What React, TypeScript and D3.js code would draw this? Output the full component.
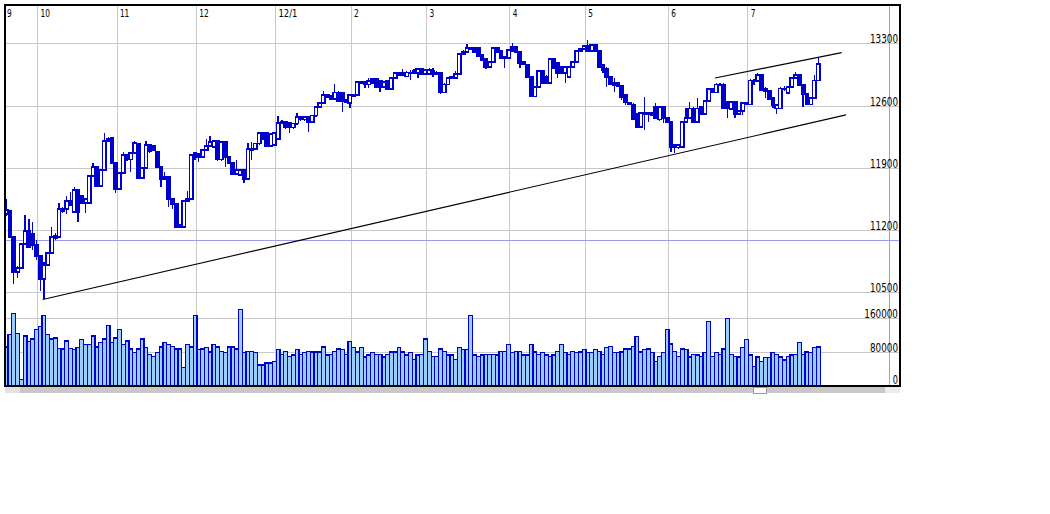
import React from 'react';
import * as d3 from 'd3';

type OHLC = [number, number, number, number]; // open, high, low, close

const ohlcSep: OHLC[] = [
  [11380, 11550, 11360, 11425], [11415, 11425, 11110, 11120], [11120, 11135, 10595, 10730],
  [10730, 10795, 10660, 10775], [10775, 11055, 10760, 11045], [11045, 11370, 11030, 11190],
  [11190, 11325, 11000, 11010], [11155, 11290, 10975, 11030], [11030, 11090, 10865, 10910],
];
const ohlcOct: OHLC[] = [
  [10910, 10920, 10515, 10650], [10650, 10840, 10425, 10805], [10805, 10955, 10795, 10940],
  [10940, 11235, 10930, 11120], [11110, 11165, 11090, 11135], [11120, 11505, 11110, 11435],
  [11435, 11460, 11390, 11415], [11435, 11585, 11380, 11525], [11525, 11630, 11470, 11480],
  [11405, 11685, 11390, 11650], [11650, 11660, 11290, 11405], [11585, 11595, 11495, 11505],
  [11505, 11560, 11390, 11550], [11505, 11820, 11495, 11810], [11810, 11955, 11795, 11910],
  [11910, 11920, 11685, 11695], [11695, 11885, 11685, 11875], [11875, 12290, 11865, 12200],
  [12225, 12245, 12190, 12200], [12235, 12245, 11945, 11955], [11955, 11965, 11615, 11660],
];
const ohlcNov: OHLC[] = [
  [11660, 11855, 11650, 11840], [11840, 12080, 11830, 12045], [12045, 12055, 11975, 11990],
  [11990, 12080, 11855, 12065], [12065, 12200, 12055, 12180], [12170, 12180, 11775, 11785],
  [11785, 11910, 11775, 11900], [11900, 12200, 11885, 12155], [12155, 12170, 12065, 12080],
  [12145, 12155, 12090, 12100], [12080, 12090, 11900, 11910], [11910, 11920, 11685, 11775],
  [11775, 11855, 11765, 11795], [11795, 11810, 11460, 11550], [11550, 11560, 11435, 11495],
  [11495, 11505, 11225, 11235], [11235, 11270, 11225, 11255], [11235, 11540, 11225, 11525],
  [11525, 11640, 11515, 11550], [11550, 12055, 11540, 12045], [12065, 12080, 11990, 12045],
];
const ohlcDec: OHLC[] = [
  [12055, 12065, 11965, 12020], [12020, 12110, 12010, 12100], [12100, 12225, 12090, 12145],
  [12145, 12260, 12135, 12190], [12135, 12215, 12125, 12200], [12200, 12215, 11975, 11990],
  [11990, 12200, 11975, 12190], [12190, 12200, 11910, 12020], [12020, 12035, 11945, 11955],
  [11955, 11965, 11820, 11830], [11830, 11990, 11820, 11875], [11820, 11885, 11810, 11875],
  [11875, 11885, 11730, 11775], [11775, 12180, 11765, 12110], [12100, 12190, 11990, 12110],
  [12110, 12180, 12100, 12170], [12170, 12305, 12155, 12290], [12290, 12305, 12215, 12280],
  [12290, 12305, 12135, 12145], [12145, 12290, 12135, 12280], [12155, 12305, 12145, 12290],
];
const ohlcJan: OHLC[] = [
  [12225, 12485, 12215, 12405], [12405, 12440, 12395, 12415], [12415, 12425, 12335, 12350],
  [12405, 12415, 12290, 12350], [12350, 12405, 12335, 12395], [12395, 12515, 12380, 12470],
  [12470, 12485, 12425, 12440], [12440, 12485, 12425, 12470], [12470, 12485, 12305, 12415],
  [12415, 12495, 12405, 12485], [12485, 12595, 12470, 12585], [12585, 12640, 12570, 12630],
  [12630, 12765, 12615, 12720], [12695, 12730, 12685, 12720], [12705, 12720, 12660, 12675],
  [12675, 12840, 12660, 12750], [12750, 12765, 12640, 12650], [12740, 12750, 12525, 12650],
  [12640, 12675, 12630, 12660], [12630, 12730, 12570, 12720],
];
const ohlcFeb: OHLC[] = [
  [12705, 12730, 12695, 12720], [12720, 12875, 12705, 12865], [12855, 12875, 12840, 12865],
  [12865, 12875, 12795, 12840], [12840, 12910, 12795, 12875], [12900, 12910, 12840, 12855],
  [12900, 12910, 12795, 12810], [12875, 12885, 12750, 12810], [12810, 12875, 12795, 12865],
  [12875, 12885, 12775, 12785], [12785, 12920, 12775, 12910], [12910, 12975, 12900, 12965],
  [12965, 12975, 12930, 12945], [12965, 13010, 12930, 12945], [12930, 12990, 12920, 12975],
  [12965, 13000, 12885, 12975], [12965, 13010, 12955, 12990], [12965, 13020, 12910, 13010],
  [13010, 13020, 12945, 12955], [12955, 13010, 12945, 13000],
];
const ohlcMar: OHLC[] = [
  [12955, 13020, 12945, 13000], [12990, 13020, 12920, 12955], [12955, 12990, 12945, 12975],
  [12965, 12975, 12730, 12750], [12750, 12855, 12740, 12840], [12840, 12920, 12830, 12910],
  [12910, 12930, 12900, 12920], [12910, 12990, 12900, 12955], [12955, 13190, 12945, 13180],
  [13180, 13225, 13170, 13200], [13200, 13290, 13190, 13245], [13235, 13260, 13225, 13245],
  [13245, 13260, 13190, 13200], [13245, 13260, 13145, 13155], [13170, 13180, 13100, 13110],
  [13125, 13135, 13010, 13035], [13035, 13100, 13020, 13090], [13090, 13260, 13080, 13245],
  [13245, 13260, 13190, 13200], [13215, 13225, 13125, 13135], [13135, 13155, 13020, 13145],
  [13135, 13235, 13125, 13225],
];
const ohlcApr: OHLC[] = [
  [13260, 13305, 13200, 13215], [13260, 13270, 13190, 13200], [13200, 13215, 13020, 13080],
  [13065, 13100, 13055, 13090], [13055, 13065, 12910, 12920], [12920, 12930, 12695, 12705],
  [12705, 12820, 12695, 12810], [12810, 13000, 12795, 12990], [12990, 13000, 12840, 12855],
  [12930, 12945, 12840, 12855], [12855, 13135, 12840, 13125], [13125, 13135, 13010, 13020],
  [13080, 13090, 12910, 12965], [13035, 13045, 12955, 12965], [12965, 13045, 12855, 13035],
  [12920, 13045, 12910, 13035], [13035, 13100, 13020, 13090], [13090, 13225, 13080, 13215],
  [13215, 13245, 13200, 13235], [13235, 13280, 13225, 13270],
];
const ohlcMay: OHLC[] = [
  [13270, 13335, 13200, 13215], [13215, 13290, 13200, 13280], [13280, 13290, 13200, 13215],
  [13215, 13225, 13020, 13035], [13055, 13065, 12965, 13000], [13020, 13035, 12810, 12920],
  [12920, 12930, 12830, 12840], [12830, 12910, 12750, 12855], [12855, 12865, 12810, 12820],
  [12820, 12830, 12660, 12695], [12720, 12730, 12605, 12640], [12630, 12640, 12605, 12615],
  [12615, 12630, 12440, 12450], [12505, 12515, 12350, 12360], [12360, 12525, 12350, 12515],
  [12505, 12695, 12325, 12515], [12505, 12525, 12415, 12515], [12495, 12525, 12485, 12515],
  [12585, 12630, 12450, 12460], [12440, 12595, 12425, 12585], [12585, 12595, 12405, 12460],
  [12460, 12470, 12405, 12415],
];
const ohlcJun: OHLC[] = [
  [12415, 12425, 12080, 12125], [12155, 12170, 12065, 12125], [12125, 12170, 12110, 12155],
  [12135, 12425, 12125, 12415], [12415, 12570, 12405, 12460], [12460, 12640, 12450, 12570],
  [12570, 12585, 12405, 12415], [12415, 12685, 12405, 12570], [12585, 12595, 12495, 12505],
  [12505, 12650, 12495, 12650], [12650, 12795, 12640, 12785], [12785, 12795, 12740, 12750],
  [12750, 12855, 12740, 12840], [12830, 12855, 12820, 12840], [12840, 12855, 12560, 12570],
  [12640, 12650, 12460, 12570], [12560, 12650, 12550, 12640], [12640, 12650, 12460, 12505],
  [12505, 12550, 12495, 12540], [12540, 12640, 12495, 12630], [12615, 12640, 12605, 12630],
];
const ohlcJul: OHLC[] = [
  [12615, 12900, 12605, 12885], [12875, 12900, 12830, 12885], [12875, 12965, 12865, 12945],
  [12945, 12955, 12765, 12775], [12795, 12810, 12685, 12765], [12765, 12775, 12660, 12675],
  [12685, 12695, 12570, 12605], [12570, 12615, 12505, 12605], [12570, 12810, 12560, 12795],
  [12785, 12820, 12765, 12795], [12740, 12820, 12730, 12810], [12810, 12920, 12795, 12910],
  [12910, 12975, 12900, 12945], [12945, 12955, 12820, 12830], [12830, 12840, 12585, 12730],
  [12730, 12740, 12605, 12615], [12615, 12695, 12605, 12685], [12685, 12945, 12675, 12885],
  [12885, 13135, 12875, 13065],
];

const volSep = [92000, 121000, 171000, 123000, 15000, 118000, 104000, 111000, 133000];
const volOct = [140000, 166000, 121000, 111000, 113000, 89000, 87000, 106000, 89000, 85000, 90000,
  109000, 97000, 97000, 118000, 92000, 102000, 111000, 142000, 102000, 113000];
const volNov = [133000, 97000, 106000, 87000, 78000, 87000, 111000, 90000, 75000, 70000, 78000,
  92000, 102000, 97000, 94000, 87000, 87000, 44000, 97000, 92000, 166000];
const volDec = [85000, 87000, 90000, 80000, 97000, 92000, 82000, 78000, 92000, 92000, 87000,
  181000, 78000, 82000, 82000, 78000, 49000, 49000, 54000, 54000, 58000];
const volJan = [85000, 75000, 82000, 70000, 73000, 85000, 75000, 78000, 82000, 80000, 80000,
  80000, 92000, 73000, 75000, 82000, 87000, 85000, 75000, 104000];
const volFeb = [90000, 80000, 90000, 68000, 73000, 78000, 75000, 75000, 68000, 75000, 80000,
  80000, 90000, 80000, 73000, 78000, 63000, 73000, 75000, 111000];
const volMar = [82000, 70000, 70000, 87000, 82000, 73000, 73000, 63000, 90000, 85000, 85000,
  166000, 73000, 70000, 73000, 75000, 75000, 75000, 73000, 82000, 82000, 97000];
const volApr = [78000, 82000, 82000, 73000, 73000, 97000, 80000, 75000, 78000, 73000, 70000,
  73000, 82000, 97000, 78000, 75000, 82000, 78000, 80000, 85000];
const volMay = [78000, 78000, 85000, 82000, 75000, 90000, 94000, 78000, 78000, 80000, 87000,
  87000, 94000, 116000, 80000, 85000, 87000, 78000, 58000, 70000, 78000, 133000];
const volJun = [99000, 82000, 70000, 87000, 85000, 68000, 75000, 73000, 70000, 78000, 152000,
  70000, 78000, 75000, 87000, 159000, 75000, 70000, 68000, 90000, 109000];
const volJul = [73000, 46000, 68000, 58000, 66000, 66000, 78000, 75000, 68000, 61000, 70000,
  73000, 75000, 102000, 75000, 80000, 78000, 90000, 92000];

const monthLabels = ['9', '10', '11', '12', '12/1', '2', '3', '4', '5', '6', '7'];
const monthOhlc = [ohlcSep, ohlcOct, ohlcNov, ohlcDec, ohlcJan, ohlcFeb, ohlcMar, ohlcApr, ohlcMay, ohlcJun, ohlcJul];
const monthVol = [volSep, volOct, volNov, volDec, volJan, volFeb, volMar, volApr, volMay, volJun, volJul];

const priceTicks = [13300, 12600, 11900, 11200, 10500];
const volumeTicks = [160000, 80000, 0];

// trend lines: [slot position, price]
const trendLower: [number, number][] = [[10.17, 10420], [222.85, 12495]];
const trendUpper: [number, number][] = [[188.17, 12910], [221.7, 13195]];
const crosshairSlot = 234.2;
const crosshairPrice = 11090;

const BLUE = '#0000cc';
const GRID = '#c8c8c8';
const CROSS = '#9c9cea';
const FONT = 'DejaVu Sans, sans-serif';

export default function App() {
  const candles = monthOhlc.flat();
  const vols = monthVol.flat();
  const N = candles.length;
  const starts: number[] = [];
  let acc = 0;
  monthOhlc.forEach((m) => { starts.push(acc); acc += m.length; });

  const slotW = 3.777;
  const x = d3.scaleLinear().domain([0, N]).range([4.3, 4.3 + N * slotW]);
  const y = d3.scaleLinear().domain([10500, 13300]).range([292.3, 43.3]);
  const v = d3.scaleLinear().domain([0, 160000]).range([385.7, 318.3]);

  const L = 5, R = 900, T = 5, B = 386;
  const crisp = (p: number) => Math.round(p) + 0.5;
  const line = d3.line<[number, number]>().x((d) => x(d[0])).y((d) => y(d[1]));

  return (
    <svg width={1050} height={514} style={{ position: 'absolute', left: 0, top: 0 }}>
      <rect x={0} y={0} width={1050} height={514} fill="#fff" />
      <g shapeRendering="crispEdges">
        {priceTicks.map((p) => (
          <line key={'pg' + p} x1={L} x2={R} y1={crisp(y(p))} y2={crisp(y(p))} stroke={GRID} strokeWidth={1} />
        ))}
        {volumeTicks.filter((t) => t > 0).map((t) => (
          <line key={'vg' + t} x1={L} x2={R} y1={crisp(v(t))} y2={crisp(v(t))} stroke={GRID} strokeWidth={1} />
        ))}
        {starts.map((s, k) => k > 0 ? (
          <line key={'mg' + k} x1={crisp(x(s)) - 1} x2={crisp(x(s)) - 1} y1={T} y2={B} stroke={GRID} strokeWidth={1} />
        ) : null)}
        <line x1={L} x2={R} y1={crisp(y(crosshairPrice))} y2={crisp(y(crosshairPrice))} stroke={CROSS} strokeWidth={1} />
        <line x1={crisp(x(crosshairSlot))} x2={crisp(x(crosshairSlot))} y1={T} y2={393} stroke={CROSS} strokeWidth={1} />
      </g>
      <g shapeRendering="crispEdges">
        {vols.map((vol, i) => (
          <rect key={'v' + i} x={x(i)} y={v(vol)} width={slotW} height={v(0) - v(vol)}
            fill="#99ccff" stroke={BLUE} strokeWidth={1.2} />
        ))}
      </g>
      <g shapeRendering="crispEdges">
        {candles.map((c, i) => {
          const [o, h, l, cl] = c;
          const cx = x(i + 0.5);
          const top = y(Math.max(o, cl));
          const bot = y(Math.min(o, cl));
          const up = cl >= o;
          return (
            <g key={'c' + i}>
              <line x1={cx} x2={cx} y1={y(h)} y2={y(l)} stroke={BLUE} strokeWidth={1.3} />
              <rect x={cx - 1.7} y={top} width={3.4} height={Math.max(bot - top, 1)}
                fill={up ? '#fff' : BLUE} stroke={BLUE} strokeWidth={1.4} />
            </g>
          );
        })}
      </g>
      <path d={line(trendLower) || ''} stroke="#000" strokeWidth={1.1} fill="none" />
      <path d={line(trendUpper) || ''} stroke="#000" strokeWidth={1.1} fill="none" />
      {/* scrollbar */}
      <g shapeRendering="crispEdges">
        <rect x={L} y={387} width={880} height={6} fill="#c8c8c8" />
        <rect x={L} y={387} width={15} height={6} fill="#e2e2e2" />
        <rect x={885} y={387} width={15} height={6} fill="#ececec" />
        <rect x={753.5} y={387.5} width={13} height={6} fill="#fff" stroke="#9a9a9a" strokeWidth={1} />
      </g>
      {/* frame */}
      <g shapeRendering="crispEdges">
        <line x1={L} x2={L} y1={T - 1} y2={B + 1} stroke="#000" strokeWidth={2} />
        <line x1={L - 1} x2={R + 1} y1={T} y2={T} stroke="#000" strokeWidth={2} />
        <line x1={R} x2={R} y1={T} y2={B} stroke="#000" strokeWidth={1.5} />
        <line x1={L - 1} x2={R + 1} y1={B} y2={B} stroke="#000" strokeWidth={2} />
      </g>
      {/* labels */}
      {monthLabels.map((m, k) => (
        <text key={'ml' + m} x={x(starts[k]) + (k === 0 ? 2.6 : 2.3)} y={17} fontFamily={FONT} fontSize={11}
          textLength={m.length * 4.7} lengthAdjust="spacingAndGlyphs" fill="#000">{m}</text>
      ))}
      {priceTicks.map((p) => (
        <text key={'pl' + p} x={898} y={crisp(y(p)) - 1} textAnchor="end" fontFamily={FONT} fontSize={13}
          textLength={String(p).length * 5.7 - 0.5} lengthAdjust="spacingAndGlyphs" fill="#000">{p}</text>
      ))}
      {volumeTicks.map((t) => (
        <text key={'vl' + t} x={898} y={(t === 0 ? 385 : crisp(v(t))) - 1} textAnchor="end" fontFamily={FONT} fontSize={13}
          textLength={String(t).length * 5.7 - 0.5} lengthAdjust="spacingAndGlyphs" fill="#000">{t}</text>
      ))}
    </svg>
  );
}
